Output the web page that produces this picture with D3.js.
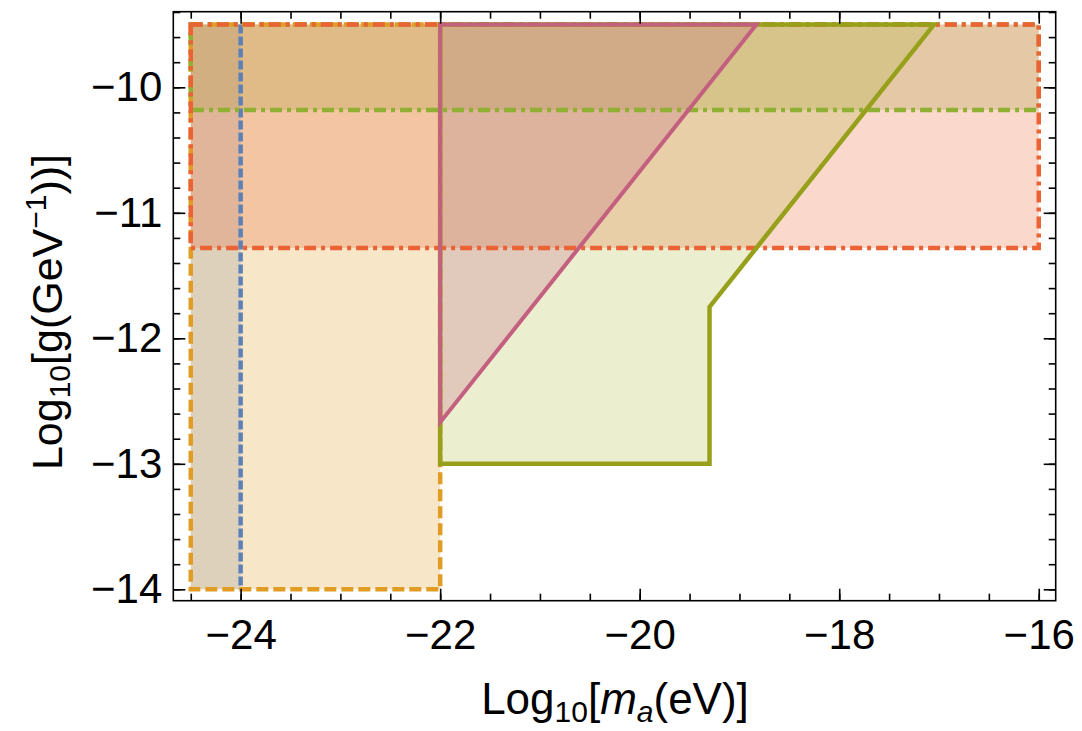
<!DOCTYPE html>
<html>
<head>
<meta charset="utf-8">
<script src="https://cdn.jsdelivr.net/npm/d3@7"></script>
<style>
  body { margin: 0; background: #fff; }
  svg { display: block; font-family: "Liberation Sans", Arial, sans-serif; }
</style>
</head>
<body>
<svg id="chart" width="1082" height="731"></svg>
<script>
// axis ticks
const xTicks = [-24, -22, -20, -18, -16];
const yTicks = [-10, -11, -12, -13, -14];
const xMinor = d3.range(-24.5, -15.9, 0.5);
const yMinor = d3.range(-9.4, -14.05, -0.2).map(v => +v.toFixed(1));

// excluded regions (log10 m_a, log10 g)
const blueRegion = [[-24.5, -9.5], [-24, -9.5], [-24, -14], [-24.5, -14]];
const blueEdge = [[-24, -9.5], [-24, -14]];
const orangeRegion = [[-24.5, -9.5], [-22, -9.5], [-22, -14], [-24.5, -14]];
const greenRegion = [[-24.5, -9.5], [-16, -9.5], [-16, -10.18], [-24.5, -10.18]];
const redRegion = [[-24.5, -9.5], [-16, -9.5], [-16, -11.28], [-24.5, -11.28]];
const oliveRegion = [[-22, -9.5], [-17.05, -9.5], [-19.3, -11.75], [-19.3, -13], [-22, -13]];
const magentaRegion = [[-22, -9.5], [-18.83, -9.5], [-22, -12.67]];

const width = 1082, height = 731;
const margin = { left: 173.3, top: 11.7, right: 1082 - 1055.7, bottom: 731 - 600.7 };

const svg = d3.select("#chart");

const x = d3.scaleLinear().domain([-24.675, -15.83]).range([margin.left, width - margin.right]);
const y = d3.scaleLinear().domain([-10, -14]).range([87.3, 589.3]);

const x0 = margin.left, x1 = width - margin.right;
const y0 = margin.top, y1 = height - margin.bottom;

const line = d3.line().x(d => x(d[0])).y(d => y(d[1]));
const poly = pts => line(pts) + "Z";

const plot = svg.append("g");
plot.append("clipPath").attr("id", "clip")
  .append("rect").attr("x", x0).attr("y", y0).attr("width", x1 - x0).attr("height", y1 - y0);
const g = plot.append("g").attr("clip-path", "url(#clip)");

// fills
const fills = [
  { pts: blueRegion, color: "#5E81B5", op: 0.22 },
  { pts: orangeRegion, color: "#E19C24", op: 0.25 },
  { pts: greenRegion, color: "#8FB032", op: 0.25 },
  { pts: redRegion, color: "#EB6235", op: 0.25 },
  { pts: oliveRegion, color: "#a8b12a", op: 0.22 },
  { pts: magentaRegion, color: "#c0607f", op: 0.25 }
];
g.selectAll("path.fill").data(fills).enter().append("path")
  .attr("class", "fill")
  .attr("d", d => poly(d.pts))
  .attr("fill", d => d.color)
  .attr("fill-opacity", d => d.op)
  .attr("stroke", "none");

// outlines
g.append("path").attr("d", line(blueEdge))
  .attr("fill", "none").attr("stroke", "#5E81B5").attr("stroke-width", 4.5)
  .attr("stroke-dasharray", "9,3");
g.append("path").attr("d", poly(orangeRegion))
  .attr("fill", "none").attr("stroke", "#E19C24").attr("stroke-width", 4.5)
  .attr("stroke-dasharray", "12,5");
g.append("path").attr("d", poly(greenRegion))
  .attr("fill", "none").attr("stroke", "#8FB032").attr("stroke-width", 4.5)
  .attr("stroke-dasharray", "12,5,4,5");
g.append("path").attr("d", poly(redRegion))
  .attr("fill", "none").attr("stroke", "#EB6235").attr("stroke-width", 4.5)
  .attr("stroke-dasharray", "12,5,4,5");
g.append("path").attr("d", poly(oliveRegion))
  .attr("fill", "none").attr("stroke", "#97a01a").attr("stroke-width", 4.5)
  .attr("stroke-linejoin", "miter");
g.append("path").attr("d", poly(magentaRegion))
  .attr("fill", "none").attr("stroke", "#c4607f").attr("stroke-width", 4)
  .attr("stroke-linejoin", "miter");

// frame
svg.append("rect")
  .attr("x", x0).attr("y", y0).attr("width", x1 - x0).attr("height", y1 - y0)
  .attr("fill", "none").attr("stroke", "#000").attr("stroke-width", 1.6);

function styleAxis(sel) {
  sel.select(".domain").remove();
  sel.selectAll("line").attr("stroke", "#000").attr("stroke-width", 1.6);
  sel.selectAll("text").attr("fill", "#000").style("font-size", "42px");
}

const fmt = d3.format("d");

// bottom
svg.append("g").attr("transform", `translate(0,${y1})`)
  .call(d3.axisBottom(x).tickValues(xMinor).tickSize(-7).tickFormat("")).call(styleAxis);
svg.append("g").attr("transform", `translate(0,${y1})`)
  .call(d3.axisBottom(x).tickValues(xTicks).tickSize(-12).tickPadding(18).tickFormat(fmt)).call(styleAxis);
// top
svg.append("g").attr("transform", `translate(0,${y0})`)
  .call(d3.axisTop(x).tickValues(xMinor).tickSize(-7).tickFormat("")).call(styleAxis);
svg.append("g").attr("transform", `translate(0,${y0})`)
  .call(d3.axisTop(x).tickValues(xTicks).tickSize(-12).tickFormat("")).call(styleAxis);
// left
svg.append("g").attr("transform", `translate(${x0},0)`)
  .call(d3.axisLeft(y).tickValues(yMinor).tickSize(-7).tickFormat("")).call(styleAxis);
svg.append("g").attr("transform", `translate(${x0},0)`)
  .call(d3.axisLeft(y).tickValues(yTicks).tickSize(-12).tickPadding(11).tickFormat(fmt)).call(styleAxis);
// right
svg.append("g").attr("transform", `translate(${x1},0)`)
  .call(d3.axisRight(y).tickValues(yMinor).tickSize(-7).tickFormat("")).call(styleAxis);
svg.append("g").attr("transform", `translate(${x1},0)`)
  .call(d3.axisRight(y).tickValues(yTicks).tickSize(-12).tickFormat("")).call(styleAxis);

// axis titles
const xt = svg.append("text")
  .attr("x", 615).attr("y", 714)
  .attr("text-anchor", "middle")
  .style("font-size", "44px").attr("fill", "#000");
xt.append("tspan").text("Log");
xt.append("tspan").text("10").style("font-size", "30px").attr("dy", 8);
xt.append("tspan").text("[").attr("dy", -8);
xt.append("tspan").text("m").style("font-style", "italic");
xt.append("tspan").text("a").style("font-size", "30px").style("font-style", "italic").attr("dy", 8);
xt.append("tspan").text("(eV)]").attr("dy", -8);

const yt = svg.append("text")
  .attr("transform", "translate(62,312) rotate(-90)")
  .attr("text-anchor", "middle")
  .style("font-size", "43px").attr("fill", "#000");
yt.append("tspan").text("Log");
yt.append("tspan").text("10").style("font-size", "30px").attr("dy", 8);
yt.append("tspan").text("[g(GeV").attr("dy", -8);
yt.append("tspan").text("\u22121").style("font-size", "30px").attr("dy", -16);
yt.append("tspan").text("))]").attr("dy", 16);
</script>
</body>
</html>
